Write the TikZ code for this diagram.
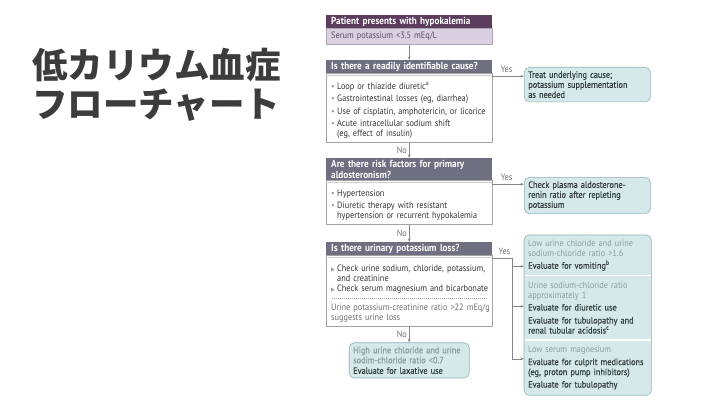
\documentclass[tikz,border=0pt]{standalone}
\usepackage{fontspec}
\setmainfont{PT Sans}[FakeStretch=0.9]
\newfontfamily\cjk{Noto Sans CJK JP}
\newfontface\medfont{PT Sans}[FakeStretch=0.9,FakeBold=0.6]
\usetikzlibrary{positioning,fit,backgrounds,arrows.meta}
\definecolor{PlumDark}{HTML}{5C3D5E}
\definecolor{PlumLight}{HTML}{D9D0E1}
\definecolor{PlumText}{HTML}{5E4E63}
\definecolor{SlateHead}{HTML}{6E7081}
\definecolor{FrameGray}{HTML}{A3A3A3}
\definecolor{BulletGray}{HTML}{A0A0A0}
\definecolor{InkGray}{HTML}{333333}
\definecolor{NoteGray}{HTML}{707070}
\definecolor{TealFill}{HTML}{D6E9EA}
\definecolor{TealLine}{HTML}{8FB3B6}
\definecolor{TealNote}{HTML}{8A9C9E}
\definecolor{TealInk}{HTML}{34403F}
\definecolor{ArrowGray}{HTML}{858585}
\definecolor{TitleInk}{HTML}{3C3C3C}
\newcommand{\bodyfont}{\fontsize{9.2}{10}\selectfont}
\newcommand{\headfont}{\fontsize{10.2}{11}\selectfont\bfseries}
% lines broken by hand, no wrapping
\newcommand{\lines}[1]{\parbox[t]{200pt}{#1}}
\newcommand{\bitem}[1]{\par\noindent
  \makebox[6pt][l]{\textcolor{BulletGray}{\textbullet}}\lines{#1}}
\newcommand{\titem}[1]{\par\noindent
  \makebox[6pt][l]{\tikz\fill[BulletGray] (0,0)--(0,4pt)--(3.4pt,2pt)--cycle;}\lines{#1}}
\newcommand{\dotsep}{\par\nointerlineskip\vspace{4pt}%
  \hbox to\linewidth{\color{BulletGray}\leaders\hbox to 2pt{\hss\vrule width 1pt height 0.6pt\hss}\hfill}}

\begin{document}
\begin{tikzpicture}[x=1pt,y=1pt,
    headbar/.style={fill=SlateHead, text=white, font=\headfont,
      text width=156pt, inner xsep=5pt, inner ysep=1.7pt, align=left},
    plumhead/.style={headbar, fill=PlumDark},
    plumsub/.style={fill=PlumLight, draw=PlumLight!80!black, line width=0.4pt,
      text=PlumText, font=\bodyfont, text width=156pt, inner xsep=5pt,
      inner ysep=3.8pt, align=left},
    bodybox/.style={draw=FrameGray, line width=0.6pt, fill=white, text=InkGray,
      font=\bodyfont, text width=156pt, inner xsep=5pt, inner ysep=3.5pt,
      align=left, execute at begin node={\parindent=0pt\setlength{\parskip}{2.5pt}}},
    teal/.style={rounded corners=5pt, fill=TealFill, draw=TealLine, line width=0.6pt},
    resbox/.style={teal, text=TealInk, font=\bodyfont\medfont, text width=118pt,
      inner sep=4pt, align=left,
      execute at begin node={\parindent=0pt\setlength{\parskip}{3pt}}},
    secbox/.style={text=TealInk, font=\bodyfont, text width=119pt,
      inner xsep=4pt, inner ysep=3pt, align=left,
      execute at begin node={\parindent=0pt\setlength{\parskip}{3pt}}},
    underline/.style={draw=FrameGray!55, line width=0.7pt},
    arr/.style={draw=ArrowGray, line width=0.6pt, -{Stealth[length=3.5pt,width=2.6pt]}},
    link/.style={draw=ArrowGray, line width=0.6pt},
    no/.style={left=2pt, font=\bodyfont, text=NoteGray, inner sep=0pt},
    yes/.style={above, font=\bodyfont, text=NoteGray}]
  \useasboundingbox (0,0) rectangle (720,405);

  % title
  \node[anchor=west, inner sep=0pt, align=left, text=TitleInk,
    font=\cjk\bfseries\fontsize{35.5}{39}\selectfont] (title) at (32,320.5)
    {低カリウム血症\\フローチャート};

  % left column
  \node[plumhead, anchor=north west] (start) at (326,390) {Patient presents with hypokalemia};
  \node[plumsub, below=0pt of start] (serum) {Serum potassium <3.5 mEq/L};

  \node[headbar, anchor=north west] (cause) at (326,345) {Is there a readily identifiable cause?};
  \node[bodybox, below=0pt of cause] (causelist) {%
    \bitem{Loop or thiazide diuretic\textsuperscript{a}}
    \bitem{Gastrointestinal losses (eg, diarrhea)}
    \bitem{Use of cisplatin, amphotericin, or licorice}
    \bitem{Acute intracellular sodium shift\\(eg, effect of insulin)}};

  \node[headbar, anchor=north west] (risk) at (326,247) {Are there risk factors for primary\\aldosteronism?};
  \node[bodybox, below=0pt of risk] (risklist) {%
    \bitem{Hypertension}
    \bitem{Diuretic therapy with resistant\\hypertension or recurrent hypokalemia}};

  \node[headbar, anchor=north west] (urine) at (326,163) {Is there urinary potassium loss?};
  \node[bodybox, below=0pt of urine] (urinelist) {%
    \titem{Check urine sodium, chloride, potassium,\\and creatinine}
    \titem{Check serum magnesium and bicarbonate}
    \dotsep
    \par\textcolor{NoteGray}{\lines{Urine potassium-creatinine ratio >22 mEq/g\\suggests urine loss}}};

  \foreach \q in {cause,risk,urine}
    \draw[underline] ([yshift=-1.8pt]\q.south west) -- ([yshift=-1.8pt]\q.south east);

  \node[resbox, below=16pt of urinelist, text width=112pt] (laxative) {%
    \textcolor{TealNote}{\bodyfont\lines{High urine chloride and urine\\sodim-chloride ratio <0.7}}\par
    Evaluate for laxative use};

  % right column
  \node[resbox, anchor=north west] (treat) at (524,338)
    {\lines{Treat underlying cause;\\potassium supplementation\\as needed}};
  \node[resbox, anchor=north west] (aldo) at (524,228)
    {\lines{Check plasma aldosterone-\\renin ratio after repleting\\potassium}};

  \node[secbox, anchor=north west, minimum height=40pt] (vomit) at (524,170) {%
    \textcolor{TealNote}{\lines{Low urine chloride and urine\\sodium-chloride ratio >1.6}}\par
    {\medfont Evaluate for vomiting\textsuperscript{b}}};
  \node[secbox, below=0pt of vomit, minimum height=64pt] (diuretic) {%
    \textcolor{TealNote}{\lines{Urine sodium-chloride ratio\\approximately 1}}\par
    {\medfont Evaluate for diuretic use}\par
    {\medfont\lines{Evaluate for tubulopathy and\\renal tubular acidosis\textsuperscript{c}}}};
  \node[secbox, below=0pt of diuretic, minimum height=55pt] (magnes) {%
    \textcolor{TealNote}{Low serum magnesium}\par
    {\medfont\lines{Evaluate for culprit medications\\(eg, proton pump inhibitors)}}\par
    {\medfont Evaluate for tubulopathy}};
  \begin{scope}[on background layer]
    \node[teal, fit=(vomit)(magnes), inner sep=0pt] (workup) {};
  \end{scope}
  \draw[white, line width=1.5pt] ([xshift=0.6pt]vomit.south west) -- ([xshift=-0.6pt]vomit.south east);
  \draw[white, line width=1.5pt] ([xshift=0.6pt]diuretic.south west) -- ([xshift=-0.6pt]diuretic.south east);

  % connectors
  \draw[arr] (serum) -- (cause);
  \draw[arr] (causelist) -- node[no] {No} (risk);
  \draw[arr] (risklist) -- node[no] {No} (urine);
  \draw[arr] (urinelist) -- node[no] {No} (laxative);

  \draw[arr] ([yshift=-3pt]cause.south east) -- node[yes, pos=0.45] {Yes}
    ([yshift=-3pt]cause.south east -| treat.west);
  \draw[arr] ([yshift=-4pt]risk.south east) -- node[yes, pos=0.45] {Yes}
    ([yshift=-4pt]risk.south east -| aldo.west);

  \coordinate (yes3) at ([yshift=-3pt]urine.south east);
  \coordinate (tap) at ([xshift=20pt]yes3);
  \coordinate (br1) at ([yshift=9pt]vomit.south west);
  \coordinate (br2) at ([yshift=-31pt]diuretic.north west);
  \coordinate (br3) at ([yshift=-19pt]magnes.north west);
  \draw[link] (yes3) -- node[yes, pos=0.6] {Yes} (tap) -- (tap |- br3);
  \draw[arr] (tap |- br1) -- (br1);
  \draw[arr] (tap |- br2) -- (br2);
  \draw[arr] (tap |- br3) -- (br3);
\end{tikzpicture}
\end{document}
